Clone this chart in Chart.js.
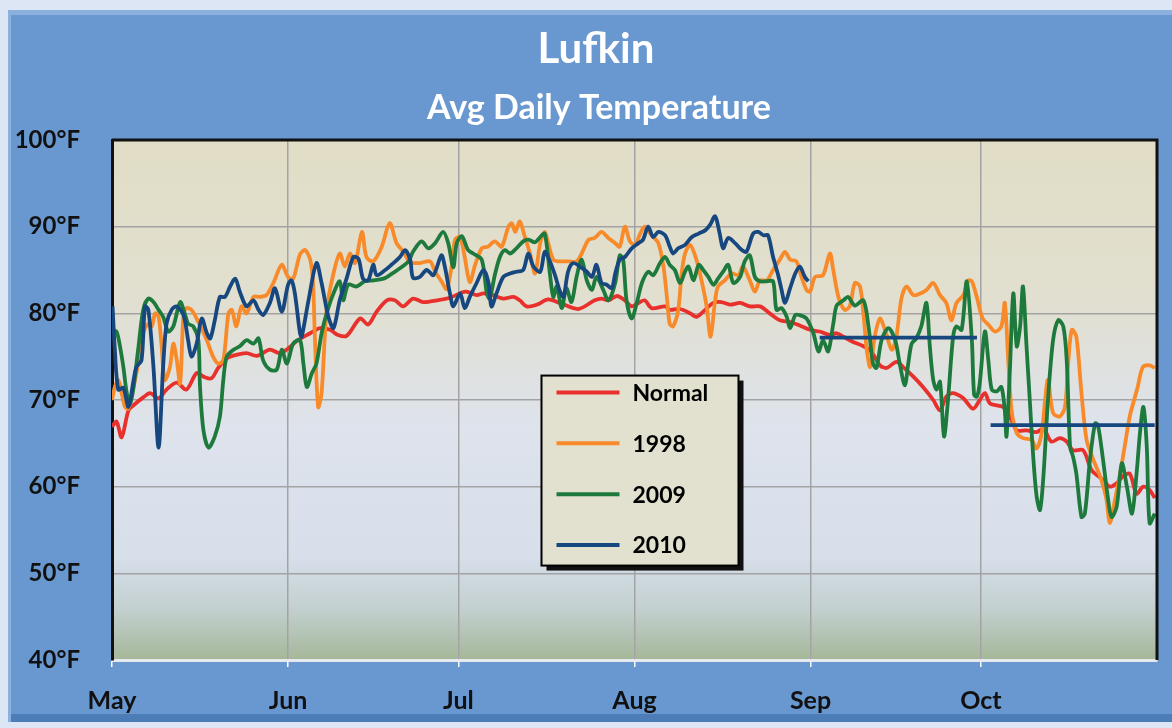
<!DOCTYPE html>
<html lang="en">
<head>
<meta charset="UTF-8">
<title>Lufkin - Avg Daily Temperature</title>
<style>
  html, body { margin: 0; padding: 0; }
  body { width: 1172px; height: 728px; background: #dde6f5; position: relative; overflow: hidden; }
  .painel { position: absolute; left: 8px; top: 10px; width: 1170px; height: 712px; background: #6898cf;
            box-shadow: inset 3px 5px 0 #8cb0de, inset 0 -8px 0 #4d7db6; }
  #grafico { position: absolute; left: 0; top: 0; }
</style>
</head>
<body>
<div class="painel"></div>
<canvas id="grafico" width="1172" height="728"></canvas>

<script src="https://cdn.jsdelivr.net/npm/chart.js"></script>
<script>
// days counted from May 1 (day 0)
const monthStarts = [0, 31, 61, 92, 123, 153];
const monthLabels = ['May', 'Jun', 'Jul', 'Aug', 'Sep', 'Oct'];
const tempTicks = [40, 50, 60, 70, 80, 90, 100];

const chartTitle = 'Lufkin';
const chartSubtitle = 'Avg Daily Temperature';

const seriesNames = ['Normal', '1998', '2009', '2010'];
const seriesColors = ['#e8302c', '#f98a2a', '#1d7a3c', '#17477f'];

// [day, °F]
const normal = [[0,66.9],[0.8,67.5],[1.7,65.7],[2.9,68.8],[3.8,69.4],[5.5,70.3],[6.7,70.8],[8.2,70.2],[9.6,71.2],[11.4,72.0],
  [13.1,71.2],[14.9,73.1],[16.1,72.7],[17.5,72.5],[18.7,73.7],[20.2,74.8],[21.9,75.2],[23.7,75.4],[25.5,75.1],[27.8,75.8],
  [29.6,75.4],[31.3,76.1],[32.5,76.8],[34.9,77.7],[36.6,78.3],[38.4,78.1],[39.8,77.5],[41.3,77.4],[43.7,79.4],[45.1,78.7],
  [46.6,80.2],[48.4,81.5],[49.8,81.5],[51.3,80.8],[53.0,81.7],[54.8,81.3],[57.2,81.5],[59.5,81.8],[61.6,82.4],[62.4,82.5],
  [64.2,82.1],[65.4,82.3],[67.1,82.1],[68.9,81.7],[70.7,81.9],[71.8,81.5],[73.0,80.8],[74.8,81.0],[76.8,81.6],[79.2,81.1],
  [82.1,80.5],[85.0,81.5],[86.2,81.7],[87.4,81.5],[88.9,82.0],[90.3,81.5],[91.5,80.8],[92.7,81.2],[93.8,81.5],[95.0,80.6],
  [97.4,80.8],[98.2,80.4],[100,80.5],[101.8,80.0],[102.9,79.6],[104.1,80.2],[105.9,81.2],[107.3,81.3],[108.8,81.0],[110.6,81.2],
  [112.3,80.8],[114.1,80.8],[115.8,80.0],[117.6,79.2],[119.4,79.0],[121.1,78.6],[122.9,78.1],[124.6,77.9],[126.4,77.5],[127.6,77.7],
  [128.8,77.3],[130.5,76.7],[132.3,76.2],[133.7,75.6],[135.2,74.0],[136.4,73.7],[138.1,74.4],[139.3,73.8],[141.1,72.7],[142.8,71.5],
  [144.6,70.0],[145.8,68.8],[146.9,70.4],[148.1,70.8],[149.9,70.2],[151.6,69.0],[152.8,70.0],[153.7,70.8],[154.6,69.6],[156.9,69.2],
  [158.1,68.1],[159.3,66.5],[161.0,66.5],[162.8,66.3],[164.0,66.7],[165.4,65.2],[166.9,65.6],[168.1,65.2],[169.2,64.2],[171.0,64.2],
  [172.5,61.9],[174.5,60.8],[175.7,60.0],[176.9,60.4],[178.0,61.2],[179.2,61.5],[180.4,59.2],[181.6,60.0],[182.7,59.6],[183.6,58.7]];

const y1998 = [[0,70.0],[0.5,71.5],[1.1,72.3],[1.7,70.8],[2.3,69.2],[2.9,69.0],[3.8,71.5],[4.6,74.2],[5.5,77.7],[6.4,78.8],
  [7.0,78.5],[7.6,80.0],[8.2,79.6],[8.7,76.5],[9.3,72.3],[10.2,73.8],[10.8,76.5],[11.4,74.6],[12.0,71.9],[12.6,80.0],
  [13.1,80.6],[14.0,80.4],[15.2,79.0],[16.7,76.9],[17.8,75.0],[18.7,74.2],[19.6,74.6],[20.5,80.0],[21.1,80.4],[21.9,78.5],
  [22.8,80.8],[23.7,80.0],[24.9,81.9],[26.1,81.9],[27.2,82.1],[28.4,83.5],[29.9,85.6],[31.0,84.2],[31.9,84.0],[33.1,86.8],
  [34.0,87.3],[34.9,86.2],[35.4,83.5],[35.7,77.7],[36.3,69.2],[36.9,70.8],[37.8,80.4],[39.0,84.6],[40.1,86.9],[41.0,85.4],
  [41.9,86.9],[42.8,85.8],[44.0,89.4],[44.8,86.5],[46.0,86.0],[47.5,87.7],[48.9,90.4],[50.1,88.1],[51.3,87.1],[52.5,85.9],
  [54.2,85.8],[56.0,86.0],[56.9,84.8],[58.0,83.7],[58.9,82.8],[59.8,85.4],[60.4,88.5],[61.3,88.8],[62.1,86.5],[63.0,83.6],
  [63.9,85.5],[65.1,87.5],[66.2,87.7],[67.4,88.3],[68.6,87.7],[69.8,90.0],[70.4,90.4],[71.0,89.4],[71.8,90.6],[72.7,88.8],
  [73.6,86.9],[74.5,84.6],[75.4,88.1],[76.2,89.4],[76.8,88.1],[77.7,86.2],[78.6,86.0],[80.3,86.0],[81.8,86.0],[82.7,86.9],
  [83.9,88.5],[85.0,88.7],[86.2,89.4],[87.4,88.7],[88.6,88.1],[89.4,87.7],[90.3,90.0],[91.2,88.3],[92.1,87.9],[93.0,89.2],
  [93.8,90.0],[95.0,89.0],[96.2,88.1],[97.1,85.4],[97.7,81.9],[98.2,78.8],[98.8,78.5],[99.7,80.4],[100.3,84.6],[100.9,86.9],
  [101.8,87.9],[102.9,86.2],[103.8,83.8],[104.7,80.8],[105.4,77.3],[106.2,81.5],[106.7,83.1],[107.9,83.8],[109.1,84.6],[110.3,84.4],
  [111.1,85.4],[112.3,83.8],[113.2,82.5],[114.1,83.8],[115.3,83.8],[116.4,85.0],[117.6,86.2],[118.5,87.1],[119.4,86.2],[120.5,86.0],
  [121.4,84.2],[122.3,82.7],[122.9,82.5],[123.8,84.2],[125.2,84.4],[126.4,86.9],[127.0,85.0],[127.9,81.9],[129.0,80.4],[129.9,80.8],
  [130.8,83.5],[131.7,83.1],[132.3,80.0],[132.9,75.8],[133.5,73.8],[134.3,77.3],[135.2,79.4],[136.1,78.1],[137.3,75.8],[138.1,77.3],
  [139.0,81.7],[139.9,83.1],[141.1,82.1],[142.3,82.3],[143.4,82.7],[144.6,83.5],[145.8,82.1],[146.9,81.2],[147.8,79.2],[148.7,81.2],
  [149.9,82.1],[150.8,83.8],[151.4,83.7],[152.3,81.8],[153.3,79.4],[154.3,78.7],[155.5,77.9],[156.6,78.5],[157.2,81.2],[157.8,74.6],
  [158.4,68.8],[159.3,66.2],[160.4,65.6],[161.9,65.4],[162.8,64.4],[163.7,66.2],[164.3,70.0],[164.8,72.3],[165.7,68.5],[166.9,68.1],
  [167.8,69.2],[168.4,74.6],[169.0,78.1],[169.8,77.3],[170.7,70.8],[171.6,65.4],[172.8,63.1],[174.2,60.8],[175.1,58.5],[175.7,55.8],
  [176.6,58.5],[177.5,61.5],[178.3,64.6],[179.2,68.1],[179.8,69.6],[180.6,71.5],[181.5,73.8],[182.7,74.0],[183.6,73.7]];

const y2009 = [[0.1,78.1],[0.8,77.9],[1.4,76.2],[2.0,73.8],[2.6,70.8],[3.2,69.6],[3.8,71.5],[4.6,75.8],[5.5,80.4],[6.4,81.7],
  [7.3,81.3],[8.2,80.4],[9.0,79.6],[9.9,77.9],[10.8,78.5],[12.0,81.3],[12.9,79.8],[13.4,78.8],[14.3,78.5],[15.2,76.9],
  [15.5,71.5],[16.1,66.5],[17.0,64.5],[18.1,65.8],[19.0,68.1],[19.6,72.3],[20.2,75.0],[21.4,75.8],[22.5,76.2],[23.7,76.9],
  [24.9,76.5],[25.8,77.1],[26.6,74.6],[27.8,73.5],[29.0,73.5],[29.9,75.8],[30.8,74.2],[31.9,76.5],[33.1,76.9],[33.7,74.2],
  [34.3,71.5],[35.2,73.1],[36.0,74.2],[36.9,77.7],[37.8,80.0],[39.0,82.3],[40.1,83.7],[40.7,81.5],[41.6,83.3],[43.1,83.1],
  [44.5,83.7],[46.0,83.8],[47.8,84.0],[48.9,84.4],[50.7,85.2],[52.2,86.0],[53.0,87.1],[54.5,88.3],[55.7,87.5],[56.9,88.1],
  [58.3,89.4],[59.2,88.1],[60.1,85.3],[60.7,88.1],[61.6,88.9],[62.7,87.3],[63.6,86.9],[65.1,86.2],[66.0,82.3],[66.5,81.7],
  [67.4,84.4],[68.3,86.5],[69.2,87.3],[70.1,86.9],[71.2,87.5],[72.4,88.3],[73.3,88.5],[74.5,88.2],[75.4,88.8],[76.2,89.2],
  [77.1,84.6],[77.7,81.9],[78.3,83.1],[79.2,80.6],[80.0,82.9],[80.9,81.3],[81.8,84.2],[82.7,86.2],[83.6,83.8],[84.5,82.7],
  [85.3,84.2],[86.5,82.7],[87.4,81.5],[88.6,83.5],[89.4,86.7],[90.0,86.2],[90.6,81.5],[91.5,79.4],[92.4,81.2],[93.3,83.5],
  [94.4,84.8],[95.3,84.4],[96.5,85.8],[97.4,86.5],[98.2,85.6],[99.1,85.0],[100.0,83.5],[100.9,84.8],[101.5,85.4],[102.4,83.8],
  [103.3,85.6],[104.1,85.0],[105.0,84.2],[105.9,83.3],[106.7,84.0],[107.6,84.8],[108.5,85.6],[109.4,83.5],[110.6,84.2],[111.4,86.0],
  [112.3,86.7],[113.2,84.2],[114.1,83.7],[115.3,83.7],[116.4,83.7],[117.0,80.4],[117.9,80.6],[118.8,79.6],[119.4,78.3],[120.3,79.8],
  [121.1,79.8],[122.3,79.4],[123.5,77.7],[124.4,75.6],[125.2,76.9],[126.1,75.6],[127.0,78.8],[127.6,80.9],[128.8,81.5],[129.6,81.9],
  [130.8,80.9],[132.3,81.5],[133.2,78.5],[134.0,74.2],[134.6,73.7],[135.5,76.9],[136.7,78.3],[137.9,76.9],[138.7,74.2],[139.6,71.7],
  [140.2,74.2],[140.8,76.5],[141.6,77.1],[142.5,78.5],[143.4,81.2],[144.0,76.2],[144.6,72.3],[145.2,71.2],[145.8,72.1],[146.5,65.8],
  [147.2,70.0],[148.1,77.3],[148.7,78.5],[149.6,78.1],[150.5,83.7],[151.4,76.9],[151.8,70.6],[152.3,70.4],[152.8,72.0],[153.7,77.9],
  [154.3,74.6],[154.9,71.2],[155.8,71.0],[156.6,71.5],[157.2,68.8],[157.5,65.8],[158.1,73.5],[158.7,82.3],[159.3,76.2],[159.9,78.5],
  [160.4,83.1],[161.0,76.5],[161.6,70.0],[162.2,63.5],[162.8,58.9],[163.4,57.3],[164.0,61.2],[164.8,70.0],[165.7,76.9],[166.6,79.2],
  [167.5,78.5],[168.1,74.6],[168.7,64.6],[169.2,63.5],[169.8,61.5],[170.7,56.5],[171.3,56.9],[172.2,63.1],[173.1,67.3],[173.6,67.1],
  [174.5,63.1],[175.4,58.5],[176.0,56.5],[176.9,57.7],[177.8,62.7],[178.7,60.0],[179.6,56.9],[180.4,61.5],[181.0,66.2],[181.6,69.2],
  [182.2,64.6],[182.7,55.8],[183.6,56.9]];

// 2010: daily values until end of Aug, then the Sep and Oct averages (null = break)
const y2010 = [[0.1,80.8],[0.5,75.8],[1.1,71.2],[2.0,71.4],[2.9,69.2],[3.8,72.3],[4.3,73.8],[5.2,74.6],[5.8,80.8],[6.4,80.4],
  [7.3,73.8],[8.2,64.5],[9.0,73.8],[9.6,78.8],[10.5,80.4],[11.4,80.8],[12.6,79.8],[13.4,76.9],[14.0,75.0],[14.9,76.5],
  [15.8,79.4],[16.7,77.7],[17.3,77.1],[18.1,79.2],[19.0,81.9],[19.9,81.9],[20.8,83.1],[21.7,84.0],[22.5,82.5],[23.7,80.8],
  [24.9,81.5],[25.8,80.4],[26.6,79.8],[27.8,81.2],[28.7,82.9],[29.9,80.2],[31.0,83.3],[31.6,83.8],[32.2,82.3],[33.1,77.7],
  [33.4,77.3],[34.6,81.5],[36.0,85.8],[36.9,83.5],[38.1,79.6],[39.0,78.3],[40.1,81.5],[41.3,84.0],[42.5,86.5],[43.4,86.3],
  [44.2,84.0],[45.1,83.8],[46.0,85.6],[46.6,84.4],[48.1,85.0],[49.2,85.6],[50.7,86.5],[51.6,87.3],[52.5,86.2],[53.0,84.1],
  [54.2,84.2],[55.4,85.0],[56.6,84.4],[58.0,86.7],[58.6,85.4],[59.5,82.3],[60.1,80.8],[61.3,82.3],[62.1,80.6],[63.0,81.9],
  [64.2,83.5],[65.4,85.0],[66.3,83.5],[66.8,80.8],[67.7,82.3],[68.9,84.2],[70.1,84.6],[71.2,84.8],[72.4,85.0],[73.3,86.9],
  [74.2,85.4],[75.4,84.8],[76.2,87.1],[77.1,86.0],[78.0,84.4],[78.9,82.5],[79.5,81.9],[80.3,84.8],[81.2,85.8],[82.4,85.4],
  [83.6,84.8],[84.5,84.2],[85.3,85.6],[86.2,83.5],[87.1,83.3],[88.0,82.9],[88.6,84.6],[89.4,86.2],[90.3,86.5],[91.5,87.5],
  [92.7,88.1],[93.5,88.5],[94.4,90.0],[95.3,88.8],[96.2,89.4],[97.4,89.0],[98.2,87.7],[98.8,86.9],[99.7,87.5],[100.9,87.9],
  [102.1,88.8],[103.3,89.2],[104.5,89.6],[105.3,90.2],[106.2,91.2],[107.0,89.2],[107.6,87.5],[108.5,88.7],[109.7,88.1],[110.9,87.3],
  [111.7,87.1],[112.9,89.2],[113.8,89.4],[114.7,89.0],[115.5,89.0],[116.4,86.5],[117.3,84.4],[117.9,82.7],[118.5,81.2],[119.4,82.9],
  [120.3,84.6],[121.1,85.4],[122.0,84.2],[122.6,83.7],
  [123.5,null],[124.6,77.2],[152.3,77.2],
  [153.5,null],[154.7,67.1],[183.6,67.1]];

const seriesData = [normal, y1998, y2009, y2010];

// fundo do gráfico, títulos, bordas e legenda
const molduraPlugin = {
  id: 'moldura',
  beforeDraw(chart) {
    const { ctx, chartArea: a } = chart;
    const g = ctx.createLinearGradient(0, a.top, 0, a.bottom);
    g.addColorStop(0, '#e1ddc6');
    g.addColorStop(0.3, '#e1dfcf');
    g.addColorStop(0.55, '#dee3ec');
    g.addColorStop(0.8, '#d7dfeb');
    g.addColorStop(0.9, '#c3d0d0');
    g.addColorStop(1, '#a5b799');
    ctx.save();
    ctx.fillStyle = g;
    ctx.fillRect(a.left, a.top, a.right - a.left, a.bottom - a.top);
    ctx.restore();
  },
  afterDraw(chart) {
    const { ctx, chartArea: a } = chart;
    ctx.save();

    // títulos
    ctx.fillStyle = '#ffffff';
    ctx.textAlign = 'center';
    ctx.textBaseline = 'middle';
    ctx.font = 'bold 42px Lato';
    ctx.fillText(chartTitle, 596, 49);
    ctx.font = 'bold 34px Lato';
    ctx.fillText(chartSubtitle, 599, 108);

    ctx.strokeStyle = '#111';
    ctx.lineWidth = 3;
    ctx.beginPath();
    ctx.moveTo(a.left, a.top);
    ctx.lineTo(a.right, a.top);
    ctx.lineTo(a.right, a.bottom);
    ctx.stroke();

    // legenda
    const w = a.right - a.left, h = a.bottom - a.top;
    const lx = a.left + w * 0.411, ly = a.top + h * 0.453;
    const lw = 197, lh = 190;
    ctx.fillStyle = '#111';
    ctx.fillRect(lx + 5, ly + 5, lw, lh);
    ctx.fillStyle = '#e2e0ce';
    ctx.fillRect(lx, ly, lw, lh);
    ctx.lineWidth = 2;
    ctx.strokeStyle = '#000';
    ctx.strokeRect(lx, ly, lw, lh);
    ctx.font = 'bold 23px Lato';
    ctx.textAlign = 'left';
    seriesNames.forEach((nome, i) => {
      const yy = ly + 17 + i * 50.8;
      ctx.strokeStyle = seriesColors[i];
      ctx.lineWidth = 4;
      ctx.beginPath();
      ctx.moveTo(lx + 15, yy);
      ctx.lineTo(lx + 78, yy);
      ctx.stroke();
      ctx.fillStyle = '#000';
      ctx.fillText(nome, lx + 91, yy + 1);
    });
    ctx.restore();
  }
};

Chart.defaults.font.family = 'Lato, sans-serif';

const ctx = document.getElementById('grafico').getContext('2d');
new Chart(ctx, {
  type: 'line',
  data: {
    datasets: seriesNames.map((nome, i) => ({
      label: nome,
      data: seriesData[i].map(p => ({ x: p[0], y: p[1] })),
      borderColor: seriesColors[i],
      borderWidth: 3.8,
      pointRadius: 0,
      tension: 0.3,
      fill: false,
      order: 3 - i
    }))
  },
  options: {
    responsive: false,
    animation: false,
    layout: { padding: { left: 0, right: 15, top: 140, bottom: 0 } },
    plugins: {
      legend: { display: false },
      tooltip: { enabled: false },
      title: { display: false },
      subtitle: { display: false }
    },
    scales: {
      x: {
        type: 'linear',
        min: 0,
        max: 184,
        afterBuildTicks: s => { s.ticks = monthStarts.map(v => ({ value: v })); },
        afterFit: s => { s.height = 68; },
        ticks: {
          callback: v => monthLabels[monthStarts.indexOf(v)],
          color: '#111',
          font: { size: 25, weight: 'bold' },
          padding: 19,
          maxRotation: 0,
          autoSkip: false
        },
        grid: { color: '#a3a3a3', lineWidth: 1.5, tickColor: '#ffffff', tickLength: 7 },
        border: { color: '#e6e9ee', width: 3 }
      },
      y: {
        min: 40,
        max: 100,
        afterBuildTicks: s => { s.ticks = tempTicks.map(v => ({ value: v })); },
        afterFit: s => { s.width = 112; },
        ticks: {
          callback: v => v + '°F',
          color: '#111',
          font: { size: 24, weight: 'bold' },
          padding: 32
        },
        grid: { color: '#a3a3a3', lineWidth: 1.5, drawTicks: false },
        border: { color: '#111', width: 3 }
      }
    }
  },
  plugins: [molduraPlugin]
});
</script>
</body>
</html>
